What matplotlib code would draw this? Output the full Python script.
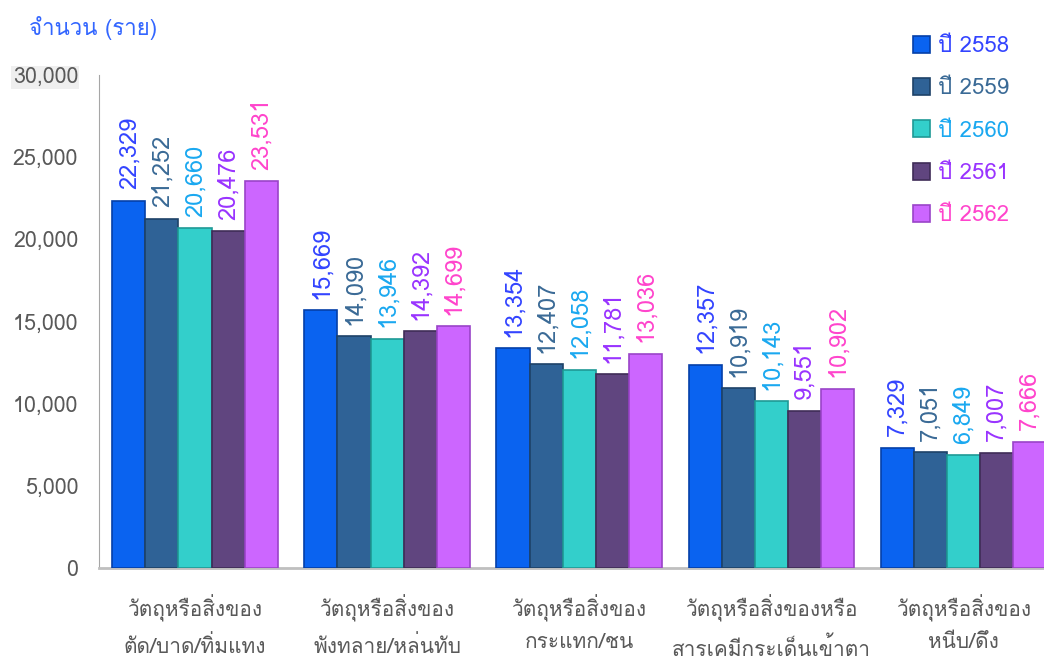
import numpy as np
import matplotlib
matplotlib.use("Agg")
import matplotlib.pyplot as plt
from matplotlib import font_manager
from matplotlib.ft2font import FT2Font
from matplotlib.ticker import FuncFormatter

categories = [
    "วัตถุหรือสิ่งของ\nตัด/บาด/ทิ่มแทง",
    "วัตถุหรือสิ่งของ\nพังทลาย/หล่นทับ",
    "วัตถุหรือสิ่งของ\nกระแทก/ชน",
    "วัตถุหรือสิ่งของหรือ\nสารเคมีกระเด็นเข้าตา",
    "วัตถุหรือสิ่งของ\nหนีบ/ดึง",
]
years = ["ปี 2558", "ปี 2559", "ปี 2560", "ปี 2561", "ปี 2562"]
v2558 = [22329, 15669, 13354, 12357, 7329]
v2559 = [21252, 14090, 12407, 10919, 7051]
v2560 = [20660, 13946, 12058, 10143, 6849]
v2561 = [20476, 14392, 11781, 9551, 7007]
v2562 = [23531, 14699, 13036, 10902, 7666]
series = [v2558, v2559, v2560, v2561, v2562]

bar_colors = ["#0A63F0", "#2F6296", "#33CFCB", "#60457F", "#CC66FF"]
edge_colors = ["#0540A8", "#1E4268", "#1F9996", "#3F2C57", "#9A44C8"]
text_colors = ["#3344FF", "#3A6A96", "#1AA8F0", "#9933FF", "#FF44CC"]


def find_thai_font():
    for f in font_manager.fontManager.ttflist:
        try:
            if 0x0E08 in FT2Font(f.fname).get_charmap():
                return f.name
        except Exception:
            pass
    return None


thai = find_thai_font()
fams = [thai, "DejaVu Sans"] if thai else ["DejaVu Sans"]
plt.rcParams["font.family"] = fams

fig = plt.figure(figsize=(10.44, 6.62), dpi=100)
ax = fig.add_axes([0.0948, 0.142, 0.905, 0.745])

x = np.arange(len(categories))
w = 0.172
for i, vals in enumerate(series):
    pos = x + (i - 2) * w
    ax.bar(pos, vals, width=w, color=bar_colors[i], edgecolor=edge_colors[i],
           linewidth=1.2, label=years[i], zorder=3)
    for p, v in zip(pos, vals):
        ax.text(p, v + 700, f"{v:,}", rotation=90, ha="center", va="bottom",
                fontsize=17, color=text_colors[i])

ax.set_ylim(0, 30000)
ax.set_xlim(-0.5, 4.42)
ax.set_yticks(np.arange(0, 30001, 5000))
ax.yaxis.set_major_formatter(FuncFormatter(lambda v, _: f"{int(v):,}"))
ax.tick_params(axis="y", length=0, pad=15, labelsize=15.5, labelcolor="#595959")
ax.get_yticklabels()[-1].set_bbox(dict(facecolor="#EFEFEF", edgecolor="none", pad=1))
ax.set_xticks(x)
ax.set_xticklabels(categories, fontsize=15, color="#595959", linespacing=1.75)
ax.tick_params(axis="x", length=0, pad=19)

for s in ["top", "right"]:
    ax.spines[s].set_visible(False)
ax.spines["left"].set_color("#A6A6A6")
ax.spines["bottom"].set_color("#BFBFBF")
ax.spines["bottom"].set_linewidth(2)

fig.text(0.028, 0.958, "จำนวน (ราย)", fontsize=16, color="#3366FF", va="center")

leg = ax.legend(loc="upper left", bbox_to_anchor=(0.84, 1.12), frameon=False,
                fontsize=16, handlelength=0.8, handleheight=0.8,
                handletextpad=0.35, labelspacing=0.95, labelcolor=text_colors)

fig.savefig("out.png", dpi=100)
